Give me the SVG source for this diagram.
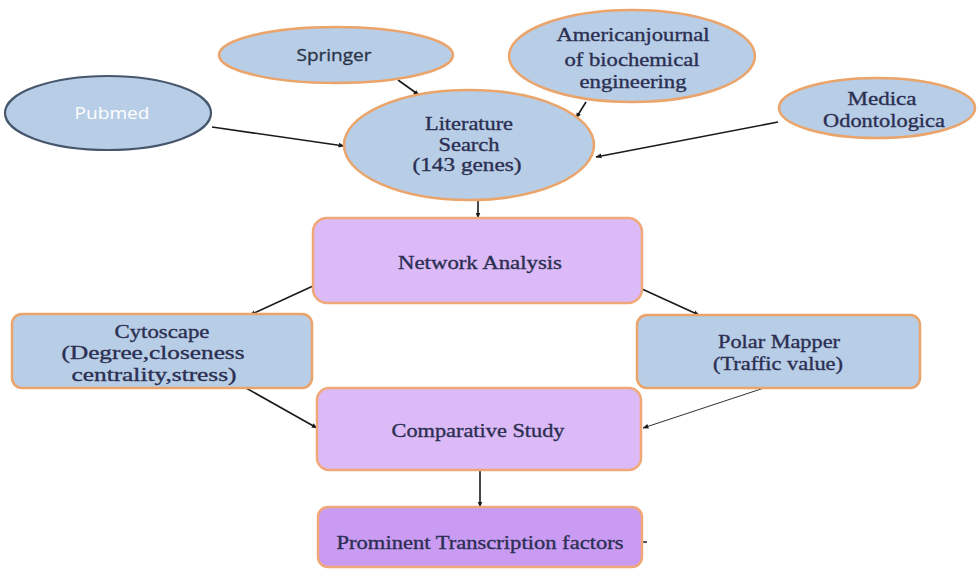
<svg xmlns="http://www.w3.org/2000/svg" width="979" height="571" viewBox="0 0 979 571">
<defs>
<marker id="ah" viewBox="0 0 10 10" refX="9" refY="5" markerWidth="6" markerHeight="6" orient="auto" markerUnits="userSpaceOnUse">
<path d="M0,1 L10,5 L0,9 z" fill="#1a1a1a"/>
</marker>
<style>
.eb{fill:#b8cde6;stroke:#eba46a;stroke-width:2.5}
.rb{fill:#b8cde6;stroke:#eba46a;stroke-width:2.5}
.rp{fill:#dcbaf8;stroke:#f0a878;stroke-width:2.5}
.rd{fill:#c99bf3;stroke:#f0a878;stroke-width:2.5}
.t{font-family:"Liberation Serif","Times New Roman",serif;font-size:19px;fill:#2b2f52;stroke:#2b2f52;stroke-width:0.35;text-anchor:middle}
.s{font-family:"Open Sans","Liberation Sans",Arial,sans-serif;font-size:16px;fill:#2b3448;stroke:#2b3448;stroke-width:0.3;text-anchor:middle}
.c{stroke:#1a1a1a;stroke-width:1.6;fill:none;marker-end:url(#ah)}
</style>
</defs>
<rect width="979" height="571" fill="#ffffff"/>
<g id="connectors">
<line class="c" x1="212" y1="127" x2="344" y2="146"/>
<line class="c" x1="398" y1="80" x2="419" y2="95"/>
<line class="c" x1="586" y1="102" x2="576" y2="118"/>
<line class="c" x1="778" y1="122" x2="596" y2="157"/>
<line class="c" x1="478" y1="200" x2="478" y2="218"/>
<line class="c" x1="313" y1="286" x2="250" y2="315"/>
<line class="c" x1="642" y1="289" x2="699" y2="315"/>
<line class="c" x1="246" y1="388" x2="317" y2="428"/>
<line class="c" x1="764" y1="388" x2="643" y2="428" style="stroke-width:0.9"/>
<line class="c" x1="480" y1="470" x2="480" y2="507"/>
<line x1="642" y1="542" x2="647" y2="542" stroke="#1a1a1a" stroke-width="1.5"/>
</g>
<g id="pubmed">
<ellipse cx="108" cy="113" rx="103" ry="37" fill="#b8cde6" stroke="#46566c" stroke-width="2.2"/>
<text class="s" x="112" y="119" style="fill:#ffffff;stroke:none" textLength="75" lengthAdjust="spacingAndGlyphs">Pubmed</text>
</g>
<g id="springer">
<ellipse class="eb" cx="336" cy="55" rx="117" ry="28"/>
<text class="s" x="334" y="61" textLength="75" lengthAdjust="spacingAndGlyphs">Springer</text>
</g>
<g id="american">
<ellipse class="eb" cx="632" cy="56" rx="123" ry="46"/>
<text class="t" x="633" y="41" textLength="153" lengthAdjust="spacingAndGlyphs">Americanjournal</text>
<text class="t" x="632" y="66" textLength="135" lengthAdjust="spacingAndGlyphs">of biochemical</text>
<text class="t" x="633" y="88" textLength="107" lengthAdjust="spacingAndGlyphs">engineering</text>
</g>
<g id="medica">
<ellipse class="eb" cx="877" cy="108" rx="98" ry="30"/>
<text class="t" x="882" y="105" textLength="69" lengthAdjust="spacingAndGlyphs">Medica</text>
<text class="t" x="884" y="127" textLength="122" lengthAdjust="spacingAndGlyphs">Odontologica</text>
</g>
<g id="literature">
<ellipse class="eb" cx="469" cy="145" rx="125" ry="55"/>
<text class="t" x="469" y="130" textLength="88" lengthAdjust="spacingAndGlyphs">Literature</text>
<text class="t" x="469" y="151" textLength="61" lengthAdjust="spacingAndGlyphs">Search</text>
<text class="t" x="467" y="171" textLength="109" lengthAdjust="spacingAndGlyphs">(143 genes)</text>
</g>
<g id="network">
<rect class="rp" x="313" y="218" width="329" height="85" rx="14"/>
<text class="t" x="480" y="269" textLength="164" lengthAdjust="spacingAndGlyphs">Network Analysis</text>
</g>
<g id="cytoscape">
<rect class="rb" x="12" y="314" width="300" height="74" rx="10"/>
<text class="t" x="162" y="338" textLength="95" lengthAdjust="spacingAndGlyphs">Cytoscape</text>
<text class="t" x="153" y="359" textLength="183" lengthAdjust="spacingAndGlyphs">(Degree,closeness</text>
<text class="t" x="154" y="381" textLength="165" lengthAdjust="spacingAndGlyphs">centrality,stress)</text>
</g>
<g id="polar">
<rect class="rb" x="637" y="315" width="283" height="73" rx="10"/>
<text class="t" x="779" y="348" textLength="122" lengthAdjust="spacingAndGlyphs">Polar Mapper</text>
<text class="t" x="778" y="370" textLength="130" lengthAdjust="spacingAndGlyphs">(Traffic value)</text>
</g>
<g id="comparative">
<rect class="rp" x="317" y="388" width="324" height="82" rx="12"/>
<text class="t" x="478" y="437" textLength="173" lengthAdjust="spacingAndGlyphs">Comparative Study</text>
</g>
<g id="prominent">
<rect class="rd" x="318" y="507" width="324" height="60" rx="10"/>
<text class="t" x="480" y="549" textLength="287" lengthAdjust="spacingAndGlyphs">Prominent Transcription factors</text>
</g>
</svg>
